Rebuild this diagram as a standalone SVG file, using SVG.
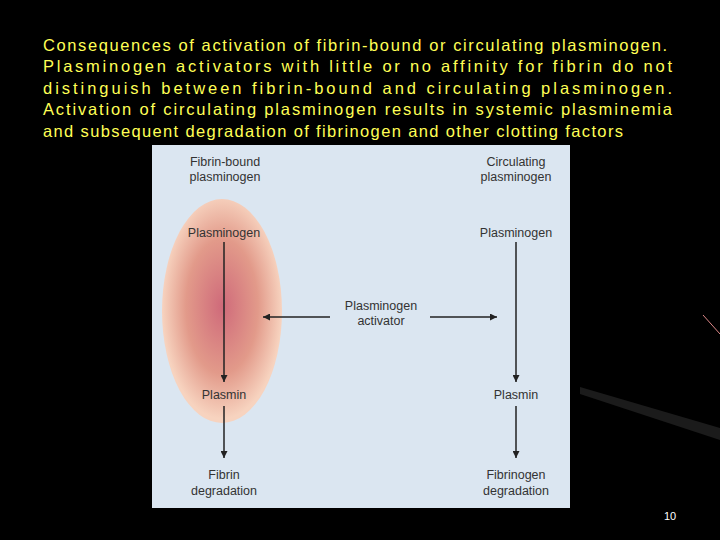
<svg xmlns="http://www.w3.org/2000/svg" width="720" height="540" viewBox="0 0 720 540">
<style>
.t{font-family:"Liberation Sans",Arial,sans-serif;font-size:16.5px;fill:#ffff55;}
.d{font-family:"Liberation Sans",Arial,sans-serif;font-size:12.5px;fill:#333;text-anchor:middle;}
.c{stroke:#222;stroke-width:1.5;fill:none;marker-end:url(#a);}
</style>
<defs>
<marker id="a" viewBox="0 0 10 10" refX="10" refY="5" markerWidth="7" markerHeight="7" markerUnits="userSpaceOnUse" orient="auto"><path d="M0,0L10,5L0,10z" fill="#222"/></marker>
<radialGradient id="g" cx="0.5" cy="0.48" r="0.5"><stop offset="0" stop-color="#cf6a7a"/><stop offset="0.6" stop-color="#e29a8a"/><stop offset="1" stop-color="#f7d3bf"/></radialGradient>
</defs>
<rect width="720" height="540" fill="#000"/>
<line x1="703" y1="315" x2="720" y2="334" stroke="#d88" stroke-width="1"/>
<polygon points="580,387 720,428 720,440 580,394" fill="#1b1b1b"/>
<g id="title">
<text class="t" x="43" y="51" textLength="624" lengthAdjust="spacing">Consequences of activation of fibrin-bound or circulating plasminogen.</text>
<text class="t" x="43" y="72" textLength="629" lengthAdjust="spacing">Plasminogen activators with little or no affinity for fibrin do not</text>
<text class="t" x="43" y="94" textLength="629" lengthAdjust="spacing">distinguish between fibrin-bound and circulating plasminogen.</text>
<text class="t" x="43" y="115" textLength="629" lengthAdjust="spacing">Activation of circulating plasminogen results in systemic plasminemia</text>
<text class="t" x="43" y="137" textLength="580" lengthAdjust="spacing">and subsequent degradation of fibrinogen and other clotting factors</text>
</g>
<rect id="panel" x="152" y="145" width="418" height="363" fill="#dbe6f1"/>
<ellipse id="clot" cx="222" cy="311" rx="60" ry="112" fill="url(#g)"/>
<g id="n1"><text class="d" x="225" y="166">Fibrin-bound</text><text class="d" x="225" y="181">plasminogen</text></g>
<g id="n2"><text class="d" x="516" y="166">Circulating</text><text class="d" x="516" y="181">plasminogen</text></g>
<g id="n3"><text class="d" x="224" y="237">Plasminogen</text></g>
<g id="n4"><text class="d" x="516" y="237">Plasminogen</text></g>
<g id="n5"><text class="d" x="381" y="310">Plasminogen</text><text class="d" x="381" y="325">activator</text></g>
<g id="n6"><text class="d" x="224" y="399">Plasmin</text></g>
<g id="n7"><text class="d" x="516" y="399">Plasmin</text></g>
<g id="n8"><text class="d" x="224" y="479">Fibrin</text><text class="d" x="224" y="495">degradation</text></g>
<g id="n9"><text class="d" x="516" y="479">Fibrinogen</text><text class="d" x="516" y="495">degradation</text></g>
<g id="connectors">
<line class="c" x1="224" y1="242" x2="224" y2="382"/>
<line class="c" x1="516" y1="242" x2="516" y2="382"/>
<line class="c" x1="224" y1="406" x2="224" y2="458"/>
<line class="c" x1="516" y1="406" x2="516" y2="458"/>
<line class="c" x1="330" y1="317" x2="263" y2="317"/>
<line class="c" x1="430" y1="317" x2="497" y2="317"/>
</g>
<text x="670" y="520" font-family="Liberation Sans,Arial,sans-serif" font-size="11" fill="#fff" text-anchor="middle">10</text>
</svg>
